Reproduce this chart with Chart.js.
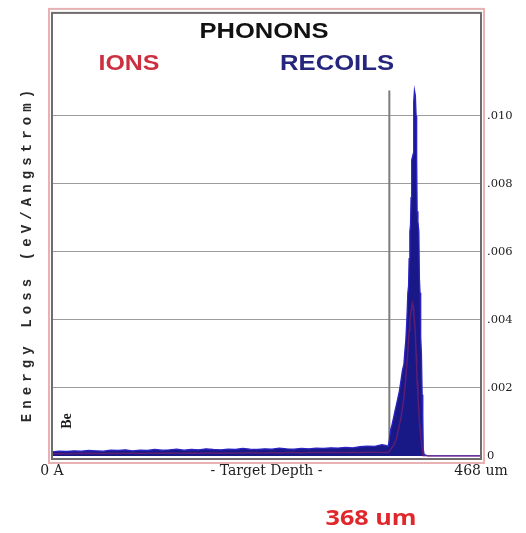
<!DOCTYPE html>
<html>
<head>
<meta charset="utf-8">
<script src="https://cdn.jsdelivr.net/npm/chart.js@4.4.1/dist/chart.umd.min.js"></script>
<style>
  html, body { margin: 0; padding: 0; background: #ffffff; }
  canvas { display: block; }
</style>
</head>
<body>
<canvas id="c" width="526" height="533"></canvas>
<script>
// Target depth (um) of each sample
const depthUm = [
  0, 8, 16, 24, 32, 40, 48, 56, 64, 72, 80, 88, 96, 104, 112, 120, 128, 136, 144, 152,
  160, 168, 176, 184, 192, 200, 208, 216, 224, 232, 240, 248, 256, 264, 272, 280, 288, 296, 304, 312,
  320, 328, 336, 344, 352, 360,
  364, 366.4, 367.5, 368.6, 369.7, 370.8, 372.4, 374.0, 375.7, 377.3, 378.9, 380.6, 382.2, 383.9, 385.0,
  386.0, 387.1, 388.2, 389.0, 389.6, 390.4, 391.1, 391.7, 392.4, 393.3, 394.2, 394.6, 395.4, 396.4, 397.2,
  397.8, 398.3, 399.2, 400.2, 400.8, 401.5, 402.2, 403.0, 403.8, 404.5, 405.0, 406.0, 410, 420, 440, 468
];

// Phonon energy loss from recoils (eV/Angstrom)
const recoilLoss = [
  0.00012, 0.00014, 0.00013, 0.00015, 0.00014, 0.00016, 0.00015, 0.00014, 0.00017, 0.00016,
  0.00018, 0.00015, 0.00017, 0.00016, 0.00019, 0.00017, 0.00018, 0.00020, 0.00017, 0.00019,
  0.00018, 0.00021, 0.00019, 0.00018, 0.00020, 0.00019, 0.00022, 0.00020, 0.00019, 0.00021,
  0.00020, 0.00023, 0.00021, 0.00020, 0.00022, 0.00021, 0.00023, 0.00022, 0.00024, 0.00023,
  0.00025, 0.00024, 0.00027, 0.00029, 0.00028, 0.00033,
  0.00031, 0.00028, 0.00038, 0.0006, 0.0008, 0.0009, 0.0011, 0.0013, 0.0015, 0.0017,
  0.0019, 0.0022, 0.0025, 0.0027, 0.0031, 0.0034, 0.0040, 0.0048, 0.0050, 0.0058,
  0.0066, 0.0068, 0.0076, 0.0087, 0.0088, 0.0089, 0.0104, 0.01075, 0.0106, 0.0100,
  0.0088, 0.0072, 0.0069, 0.0066, 0.0052, 0.0048, 0.0035, 0.0030, 0.0018, 0.0012,
  0.0002, 0.00004, 0, 0, 0, 0
];

// Phonon energy loss from ions (eV/Angstrom)
const ionLoss = [
  0.00006, 0.00007, 0.00006, 0.00007, 0.00007, 0.00008, 0.00007, 0.00007, 0.00008, 0.00007,
  0.00008, 0.00008, 0.00007, 0.00008, 0.00008, 0.00008, 0.00009, 0.00008, 0.00008, 0.00009,
  0.00008, 0.00009, 0.00009, 0.00008, 0.00009, 0.00009, 0.00009, 0.00010, 0.00009, 0.00009,
  0.00010, 0.00009, 0.00010, 0.00010, 0.00009, 0.00010, 0.00010, 0.00010, 0.00011, 0.00010,
  0.00010, 0.00011, 0.00010, 0.00011, 0.00011, 0.00010,
  0.0001, 0.0001, 0.00012, 0.00015, 0.0002, 0.00025, 0.0003, 0.0004, 0.0005, 0.0007,
  0.0009, 0.0011, 0.0014, 0.0017, 0.0020, 0.0023, 0.0027, 0.0031, 0.0034, 0.0037,
  0.0040, 0.0041, 0.0043, 0.0044, 0.0045, 0.0044, 0.0042, 0.0040, 0.0036, 0.0030,
  0.0026, 0.0022, 0.0018, 0.0013, 0.0010, 0.0008, 0.0006, 0.0004, 0.0002, 0.0001,
  0, 0, 0, 0, 0, 0
];

// Marked depth and the height of its guide line
const markerDepth = 368;
const markerTop = 0.01075;

const yTickValues = [0, 0.002, 0.004, 0.006, 0.008, 0.010];
const yTickLabels = ['0', '.002', '.004', '.006', '.008', '.010'];
const xTickValues = [0, 234, 468];
const xTickLabels = ['0 A', '- Target Depth -', '468 um'];

const toPoints = (xs, ys) => xs.map((x, i) => ({ x: x, y: ys[i] }));

// Frame around the plot area
const framePlugin = {
  id: 'frame',
  afterDatasetsDraw(chart) {
    const { ctx, chartArea: a } = chart;
    ctx.save();
    ctx.strokeStyle = 'rgb(232,178,180)';
    ctx.lineWidth = 2;
    ctx.strokeRect(a.left - 3, a.top - 4, a.right - a.left + 6, a.bottom - a.top + 8);
    ctx.strokeStyle = 'rgb(112,108,110)';
    ctx.lineWidth = 2;
    ctx.strokeRect(a.left, a.top, a.right - a.left, a.bottom - a.top);
    ctx.restore();
  }
};

function drawStretched(ctx, text, cx, cy, font, color, width) {
  ctx.save();
  ctx.font = font;
  ctx.fillStyle = color;
  ctx.textAlign = 'center';
  ctx.textBaseline = 'middle';
  const w = ctx.measureText(text).width;
  ctx.translate(cx, cy);
  ctx.scale(width / w, 1);
  ctx.fillText(text, 0, 0);
  ctx.restore();
}

// Headings, axis title and annotations
const textPlugin = {
  id: 'texts',
  afterDraw(chart) {
    const ctx = chart.ctx;
    drawStretched(ctx, 'PHONONS', 264, 32, 'bold 22px "Liberation Sans", Arial, sans-serif', '#111111', 129);
    drawStretched(ctx, 'IONS', 129, 64, 'bold 22px "Liberation Sans", Arial, sans-serif', '#cc3040', 61);
    drawStretched(ctx, 'RECOILS', 337, 64, 'bold 22px "Liberation Sans", Arial, sans-serif', '#26267f', 114);
    drawStretched(ctx, markerDepth + ' um', 371, 519, 'bold 22px "Open Sans", sans-serif', '#e0282c', 91);

    // vertical axis title, fixed pitch characters
    const title = 'Energy Loss (eV/Angstrom)';
    ctx.save();
    ctx.translate(27, 0);
    ctx.rotate(-Math.PI / 2);
    ctx.font = 'bold 14px "Liberation Mono", monospace';
    ctx.fillStyle = '#2a2a2a';
    ctx.textAlign = 'center';
    ctx.textBaseline = 'middle';
    for (let i = 0; i < title.length; i++) {
      ctx.fillText(title[i], -(418 - i * 13.5), 0);
    }
    ctx.restore();

    // element label
    ctx.save();
    ctx.translate(67, 421);
    ctx.rotate(-Math.PI / 2);
    ctx.font = 'bold 14px "Liberation Serif", serif';
    ctx.fillStyle = '#1a1a1a';
    ctx.textAlign = 'center';
    ctx.textBaseline = 'middle';
    ctx.fillText('Be', 0, 0);
    ctx.restore();
  }
};

new Chart(document.getElementById('c'), {
  type: 'line',
  data: {
    datasets: [
      {
        label: 'IONS',
        data: toPoints(depthUm, ionLoss),
        borderColor: 'rgba(175,35,95,0.45)',
        borderWidth: 1.5,
        fill: false,
        pointRadius: 0
      },
      {
        label: 'RECOILS',
        data: toPoints(depthUm, recoilLoss),
        borderColor: 'rgb(45,35,195)',
        borderWidth: 1.3,
        backgroundColor: 'rgb(24,24,135)',
        fill: 'origin',
        pointRadius: 0
      },
      {
        label: 'marker',
        data: [{ x: markerDepth, y: 0 }, { x: markerDepth, y: markerTop }],
        borderColor: 'rgb(125,125,125)',
        borderWidth: 2,
        fill: false,
        pointRadius: 0
      }
    ]
  },
  options: {
    responsive: false,
    animation: false,
    events: [],
    layout: { padding: { left: 52, top: 9, right: 0, bottom: 0 } },
    elements: { line: { tension: 0 }, point: { radius: 0 } },
    plugins: { legend: { display: false }, tooltip: { enabled: false } },
    scales: {
      x: {
        type: 'linear',
        min: 0,
        max: 468,
        grid: { display: false, drawTicks: false },
        border: { display: false },
        afterBuildTicks: s => { s.ticks = xTickValues.map(v => ({ value: v })); },
        afterFit: s => { s.height = 74; },
        ticks: {
          autoSkip: false,
          maxRotation: 0,
          minRotation: 0,
          padding: 4,
          color: '#1e1e1e',
          font: { family: '"DejaVu Serif", serif', size: 14 },
          callback: (v, i) => xTickLabels[i]
        }
      },
      y: {
        type: 'linear',
        position: 'right',
        min: -0.00009,
        max: 0.01303,
        grid: { color: '#9c9c9c', lineWidth: 1, drawTicks: false },
        border: { display: false },
        afterBuildTicks: s => { s.ticks = yTickValues.map(v => ({ value: v })); },
        afterFit: s => { s.width = 45; },
        ticks: {
          padding: 6,
          color: '#222222',
          font: { family: '"DejaVu Serif", serif', size: 11.5 },
          callback: (v, i) => yTickLabels[i]
        }
      }
    }
  },
  plugins: [framePlugin, textPlugin]
});
</script>
</body>
</html>
